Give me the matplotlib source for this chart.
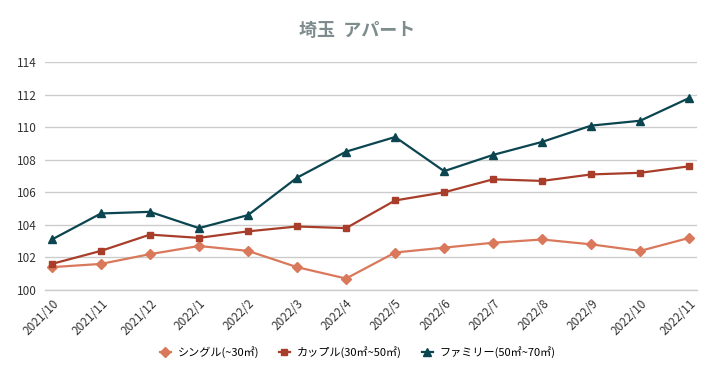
import matplotlib
matplotlib.use("Agg")
import matplotlib.pyplot as plt

plt.rcParams['font.family'] = ['Noto Sans CJK JP', 'DejaVu Sans']

months = ["2021/10", "2021/11", "2021/12", "2022/1", "2022/2", "2022/3", "2022/4",
          "2022/5", "2022/6", "2022/7", "2022/8", "2022/9", "2022/10", "2022/11"]
single = [101.4, 101.6, 102.2, 102.7, 102.4, 101.4, 100.7, 102.3, 102.6, 102.9, 103.1, 102.8, 102.4, 103.2]
couple = [101.6, 102.4, 103.4, 103.2, 103.6, 103.9, 103.8, 105.5, 106.0, 106.8, 106.7, 107.1, 107.2, 107.6]
family = [103.1, 104.7, 104.8, 103.8, 104.6, 106.9, 108.5, 109.4, 107.3, 108.3, 109.1, 110.1, 110.4, 111.8]
labels = ["シングル(~30㎡)", "カップル(30㎡~50㎡)", "ファミリー(50㎡~70㎡)"]
yticks = [100, 102, 104, 106, 108, 110, 112, 114]

fig = plt.figure(figsize=(7.15, 3.79), dpi=100)
ax = fig.add_axes([0.063, 0.235, 0.912, 0.601])

x = list(range(len(months)))
ax.plot(x, single, color="#D9785B", marker="D", markersize=5, lw=1.6, label=labels[0], zorder=3)
ax.plot(x, couple, color="#A83E2A", marker="s", markersize=5, lw=1.6, label=labels[1], zorder=3)
ax.plot(x, family, color="#0B4550", marker="^", markersize=6, lw=1.6, label=labels[2], zorder=3)

ax.set_xlim(-0.14, 13.16)
ax.set_ylim(100, 114)
ax.set_yticks(yticks)
ax.set_xticks(x)
ax.set_xticklabels(months, rotation=45, ha="right", rotation_mode="anchor", fontsize=8.5, color="#333333")
for lab in ax.get_yticklabels():
    lab.set_fontsize(8.5)
    lab.set_color("#333333")
ax.tick_params(axis="both", length=0, pad=6)
ax.tick_params(axis="x", pad=5)
ax.grid(axis="y", color="#cccccc", lw=1)
ax.axhline(100, color="#cccccc", lw=1, clip_on=False, zorder=0.5)
ax.set_axisbelow(True)
for s in ax.spines.values():
    s.set_visible(False)

fig.suptitle("埼玉  アパート", x=0.5, y=0.945, fontsize=13, fontweight="bold", color="#7f8c8d")
fig.legend(loc="center", bbox_to_anchor=(0.5, 0.07), ncol=3, frameon=False, fontsize=8,
           handlelength=1.0, columnspacing=1.8, handletextpad=0.6)

fig.savefig("out.png", dpi=100)
